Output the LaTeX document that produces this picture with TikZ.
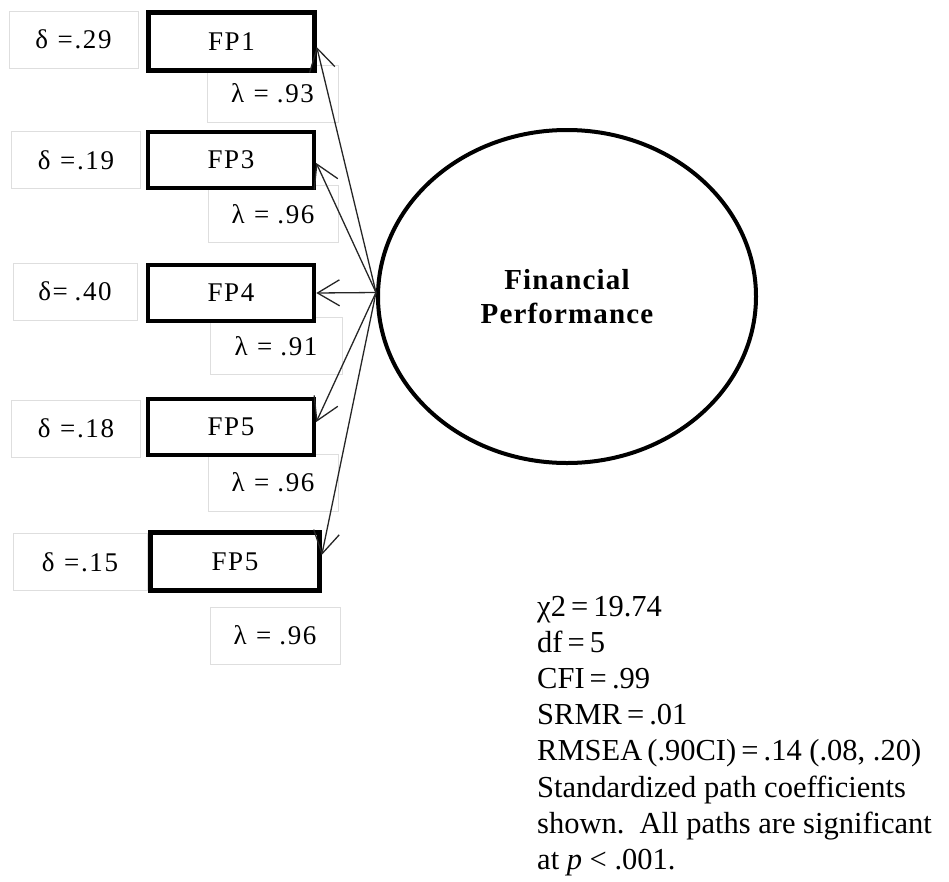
\documentclass[tikz,border=0pt]{standalone}
\usepackage{fontspec}
\setmainfont{Liberation Serif}
\newfontfamily\widefont[LetterSpace=6]{Liberation Serif}
\newfontfamily\widebold[LetterSpace=4]{Liberation Serif Bold}
\usetikzlibrary{arrows.meta,shapes.geometric}

\begin{document}
\begin{tikzpicture}[x=1pt,y=-1pt,
  lbl/.style={draw=black!13, line width=0.8pt, fill=white, inner sep=0pt,
    minimum width=129pt, minimum height=57pt, font=\widefont\fontsize{27}{30}\selectfont},
  ind/.style={draw=black, line width=4.5pt, fill=white, inner sep=0pt,
    minimum width=166pt, minimum height=56pt, font=\widefont\fontsize{27}{30}\selectfont},
  load/.style={draw=black!85, line width=1.3pt,
    -{Straight Barb[length=22pt,width=26pt,line width=1.3pt]}},
  stat/.style={anchor=base west, inner sep=0pt, font=\fontsize{30.5}{36}\selectfont}]
\useasboundingbox (0,0) rectangle (949,881);

% error variances (delta) and loadings (lambda)
\node[lbl] (d1) at (73.5,39.5) {δ\hspace{0.35em}=.29};
\node[lbl] (d3) at (76,160)    {δ\hspace{0.35em}=.19};
\node[lbl, minimum width=124pt] (d4) at (75,291.5) {δ=\hspace{0.25em}.40};
\node[lbl] (d5) at (76,428.5)  {δ\hspace{0.35em}=.18};
\node[lbl, minimum width=134pt] (d6) at (80,562) {δ\hspace{0.35em}=.15};

\node[lbl, minimum width=131pt] (l1) at (272.5,93.5) {λ\hspace{0.35em}=\hspace{0.3em}.93};
\node[lbl, minimum width=130pt] (l3) at (273,214)    {λ\hspace{0.35em}=\hspace{0.3em}.96};
\node[lbl, minimum width=132pt] (l4) at (276,346)    {λ\hspace{0.35em}=\hspace{0.3em}.91};
\node[lbl, minimum width=130pt] (l5) at (273,482.5)  {λ\hspace{0.35em}=\hspace{0.3em}.96};
\node[lbl, minimum width=130pt] (l6) at (275,635.5)  {λ\hspace{0.35em}=\hspace{0.3em}.96};

% indicator boxes
\node[ind, minimum height=58pt] (fp1) at (231.5,41.5) {FP1};
\node[ind] (fp3) at (231,160)   {FP3};
\node[ind] (fp4) at (231,293)   {FP4};
\node[ind] (fp5) at (231,427)   {FP5};
\node[ind, minimum width=169pt, minimum height=58pt] (fp6) at (235,561.5) {FP5};

% latent factor
\node[draw, ellipse, line width=4pt, fill=white, inner sep=0pt,
  minimum width=378pt, minimum height=333pt, align=center,
  font=\widebold\fontsize{29}{34}\selectfont] (fin) at (567,296.5)
  {Financial\\Performance};

% factor loadings
\coordinate (src) at ([yshift=4pt]fin.west);
\draw[load] (src) -- ([yshift=-5.5pt]fp1.east);
\draw[load] (src) -- ([yshift=-3pt]fp3.east);
\draw[load] (src) -- (fp4.east);
\draw[load] (src) -- ([yshift=5pt]fp5.east);
\draw[load] (src) -- ([yshift=6.5pt]fp6.east);

% fit statistics
\node[stat] (s1) at (537,616) {χ2\,=\,19.74};
\node[stat] (s2) at (537,652) {df\,=\,5};
\node[stat] (s3) at (537,688) {CFI\,=\,.99};
\node[stat] (s4) at (537,724) {SRMR\,=\,.01};
\node[stat] (s5) at (537,760) {RMSEA\,(.90CI)\,=\,.14 (.08, .20)};
\node[stat] (s6) at (537,797) {Standardized path coefficients};
\node[stat] (s7) at (537,833) {shown.\ \ All paths are significant};
\node[stat] (s8) at (537,869) {at \textit{p} < .001.};
\end{tikzpicture}
\end{document}
